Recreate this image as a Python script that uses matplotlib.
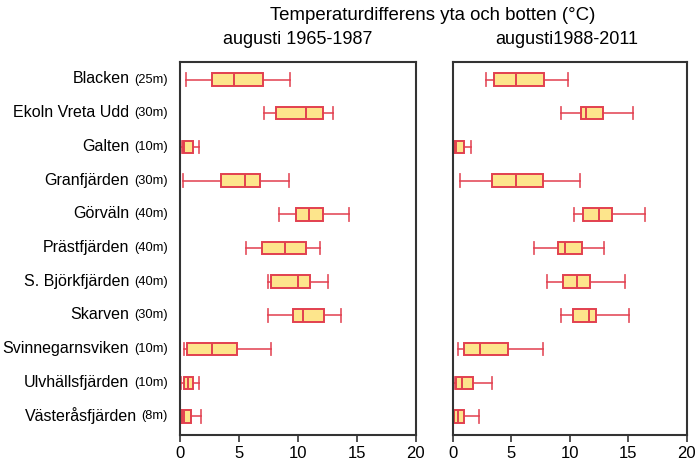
import numpy as np
import matplotlib
matplotlib.use('Agg')
from matplotlib import pyplot as plt

plt.rcParams['font.family'] = ['Liberation Sans', 'DejaVu Sans']

stations = ['Blacken', 'Ekoln Vreta Udd', 'Galten', 'Granfjärden', 'Görväln', 'Prästfjärden',
            'S. Björkfjärden', 'Skarven', 'Svinnegarnsviken', 'Ulvhällsfjärden', 'Västeråsfjärden']
depths = ['(25m)', '(30m)', '(10m)', '(30m)', '(40m)', '(40m)', '(40m)', '(30m)', '(10m)', '(10m)', '(8m)']

# august 1965-1987
p1_low = [0.46, 7.14, 0.06, 0.20, 8.36, 5.58, 7.42, 7.42, 0.34, 0.02, 0.02]
p1_q1 = [2.67, 8.10, 0.23, 3.43, 9.80, 6.90, 7.73, 9.57, 0.54, 0.31, 0.12]
p1_med = [4.56, 10.70, 0.30, 5.47, 10.90, 8.90, 10.03, 10.45, 2.69, 0.68, 0.31]
p1_q3 = [7.00, 12.15, 1.10, 6.80, 12.15, 10.68, 11.02, 12.20, 4.79, 1.10, 0.88]
p1_high = [9.32, 13.00, 1.56, 9.24, 14.36, 11.90, 12.55, 13.65, 7.68, 1.56, 1.79]

# august 1988-2011
p2_low = [2.80, 9.22, 0.02, 0.63, 10.36, 6.96, 8.02, 9.22, 0.40, 0.11, 0.02]
p2_q1 = [3.54, 10.96, 0.05, 3.37, 11.10, 9.02, 9.39, 10.25, 0.91, 0.23, 0.05]
p2_med = [5.42, 11.41, 0.23, 5.42, 12.50, 9.62, 10.62, 11.62, 2.34, 0.77, 0.40]
p2_q3 = [7.82, 12.79, 0.94, 7.73, 13.64, 11.02, 11.76, 12.22, 4.68, 1.69, 0.94]
p2_high = [9.87, 15.41, 1.54, 10.87, 16.44, 12.96, 14.75, 15.04, 7.70, 3.37, 2.20]

EDGE = '#e2404f'
FACE = '#fde58c'
FRAME = '#333333'


def make_stats(low, q1, med, q3, high):
    return [dict(whislo=a, q1=b, med=c, q3=d, whishi=e, fliers=[])
            for a, b, c, d, e in zip(low, q1, med, q3, high)]


def draw_panel(ax, stats):
    pos = np.arange(len(stats))
    ax.bxp(stats, positions=pos, vert=False, widths=0.37, capwidths=0.37,
           patch_artist=True, showfliers=False,
           boxprops=dict(facecolor=FACE, edgecolor=EDGE, linewidth=1.4),
           medianprops=dict(color=EDGE, linewidth=1.4),
           whiskerprops=dict(color=EDGE, linewidth=1.3, alpha=0.85),
           capprops=dict(color=EDGE, linewidth=1.3, alpha=0.85))
    ax.set_xlim(0, 20)
    ax.set_ylim(10.55, -0.52)
    ax.set_xticks([0, 5, 10, 15, 20])
    ax.tick_params(axis='x', labelsize=12, length=5, width=1.2, color=FRAME, pad=3)
    ax.tick_params(axis='y', length=0)
    ax.set_yticks([])
    for s in ax.spines.values():
        s.set_color(FRAME)
        s.set_linewidth(1.5)


fig = plt.figure(figsize=(6.97, 4.66), dpi=100)
ax1 = fig.add_axes([0.2587, 0.0665, 0.3377, 0.8004])
ax2 = fig.add_axes([0.650, 0.0665, 0.3353, 0.8004])

draw_panel(ax1, make_stats(p1_low, p1_q1, p1_med, p1_q3, p1_high))
draw_panel(ax2, make_stats(p2_low, p2_q1, p2_med, p2_q3, p2_high))

# station labels: name in normal size, depth smaller
fig.canvas.draw()
renderer = fig.canvas.get_renderer()
for i, (name, depth) in enumerate(zip(stations, depths)):
    dt = ax1.annotate(depth, xy=(0, i), xycoords=('axes fraction', 'data'),
                      xytext=(-9, 0), textcoords='offset points',
                      ha='right', va='center', fontsize=9.3)
    w = dt.get_window_extent(renderer).width * 72 / fig.dpi
    ax1.annotate(name, xy=(0, i), xycoords=('axes fraction', 'data'),
                 xytext=(-9 - w - 3.5, 0.4), textcoords='offset points',
                 ha='right', va='center', fontsize=11.5)

W, H = 697, 466
fig.text(433 / W, 1 - 16 / H, 'Temperaturdifferens yta och botten (°C)',
         ha='center', va='center', fontsize=13.4)
fig.text(298 / W, 1 - 40 / H, 'augusti 1965-1987', ha='center', va='center', fontsize=13)
fig.text(567 / W, 1 - 40 / H, 'augusti1988-2011', ha='center', va='center', fontsize=13)

fig.savefig('out.png', dpi=100)
